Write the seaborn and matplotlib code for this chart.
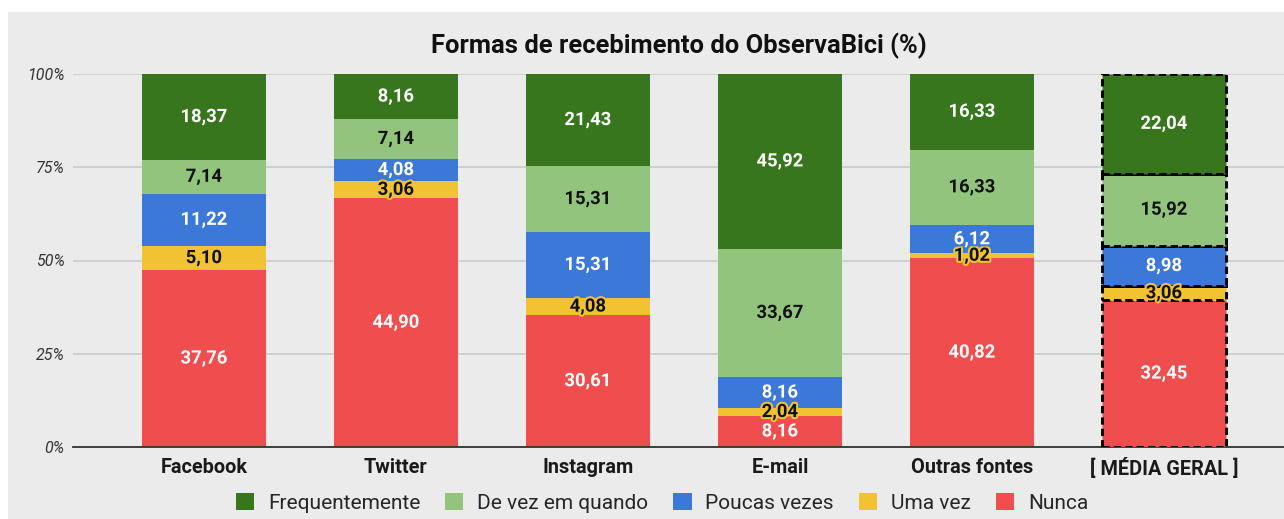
import matplotlib
matplotlib.use('Agg')
import matplotlib.pyplot as plt
import seaborn as sns
import numpy as np
import pandas as pd
from matplotlib import patheffects as pe
from matplotlib.patches import Rectangle, Patch

# ---------------- data ----------------
categories = ["Facebook", "Twitter", "Instagram", "E-mail", "Outras fontes", "[ MÉDIA GERAL ]"]
nunca = [37.76, 44.90, 30.61, 8.16, 40.82, 32.45]
uma_vez = [5.10, 3.06, 4.08, 2.04, 1.02, 3.06]
poucas_vezes = [11.22, 4.08, 15.31, 8.16, 6.12, 8.98]
de_vez_em_quando = [7.14, 7.14, 15.31, 33.67, 16.33, 15.92]
frequentemente = [18.37, 8.16, 21.43, 45.92, 16.33, 22.04]
series_names = ["Nunca", "Uma vez", "Poucas vezes", "De vez em quando", "Frequentemente"]
y_ticks = [0, 25, 50, 75, 100]
y_tick_labels = ["0%", "25%", "50%", "75%", "100%"]
title = "Formas de recebimento do ObservaBici (%)"

# ---------------- style ----------------
sns.set_theme(style="white")
plt.rcParams['font.family'] = ['Roboto', 'DejaVu Sans']

W, H = 1284, 519
DPI = 100
fig = plt.figure(figsize=(W / DPI, H / DPI), dpi=DPI, facecolor='white')
fig.patches.append(Rectangle((8 / W, 0), 1 - 8 / W, 1 - 12 / H, transform=fig.transFigure,
                             facecolor='#ebebeb', edgecolor='none', zorder=-10))
ax = fig.add_axes([73 / W, 1 - 447 / H, (W - 73) / W, (447 - 74) / H])
ax.set_facecolor('none')

raw = np.array([nunca, uma_vez, poucas_vezes, de_vez_em_quando, frequentemente])
totals = raw.sum(axis=0)
pct = raw / totals * 100
bottoms = np.vstack([np.zeros(len(categories)), np.cumsum(pct, axis=0)[:-1]])

colors = ['#f04e4e', '#f1c232', '#3c78d8', '#93c47d', '#38761d']
label_colors = ['white', '#111111', 'white', '#111111', 'white']


def fmt(v):
    return f"{v:.2f}".replace('.', ',')


for i, name in enumerate(series_names):
    df = pd.DataFrame({'cat': categories, 'val': pct[i]})
    sns.barplot(data=df, x='cat', y='val', order=categories, color=colors[i],
                saturation=1, width=0.646, errorbar=None, bottom=bottoms[i],
                linewidth=0, ax=ax, zorder=2)
    cont = ax.containers[-1]
    # dashed outline on the average bar
    p = cont.patches[-1]
    p.set_edgecolor('black')
    p.set_linewidth(2.1)
    p.set_linestyle((0, (2.5, 1.4)))
    p.set_zorder(3)
    ax.bar_label(cont, labels=[fmt(v) for v in raw[i]], label_type='center',
                 color=label_colors[i], fontsize=13.3, fontweight='bold', zorder=6,
                 path_effects=[pe.withStroke(linewidth=3, foreground=colors[i])])

# ---------------- axes ----------------
ax.set_xlim(-0.682, 5.625)
ax.set_ylim(0, 100)
ax.set_yticks(y_ticks)
ax.set_yticklabels(y_tick_labels, fontsize=11.5, style='italic', color='#333333')
ax.set_xlabel('')
ax.set_ylabel('')
ax.tick_params(axis='y', length=0, pad=6)
ax.tick_params(axis='x', length=0, pad=8)
for lab in ax.get_xticklabels():
    lab.set_fontweight('bold')
    lab.set_fontsize(14.3)
    lab.set_color('#1a1a1a')
ax.yaxis.grid(True, color='#c8c8c8', linewidth=1.1)
ax.set_axisbelow(True)
for s in ['left', 'right', 'top']:
    ax.spines[s].set_visible(False)
ax.spines['bottom'].set_color('#333333')
ax.spines['bottom'].set_linewidth(1.3)

ax.set_title(title, fontsize=18.4, fontweight='bold', pad=15, color='#111111')

handles = [Patch(facecolor=colors[i], edgecolor='none', label=series_names[i])
           for i in reversed(range(len(series_names)))]
fig.legend(handles=handles, loc='center', bbox_to_anchor=(662 / W, 1 - 503 / H), ncol=5,
           frameon=False, fontsize=15, handlelength=0.87, handleheight=0.87,
           handletextpad=0.67, columnspacing=1.2, borderaxespad=0, borderpad=0)

fig.savefig('out.png', dpi=DPI)
